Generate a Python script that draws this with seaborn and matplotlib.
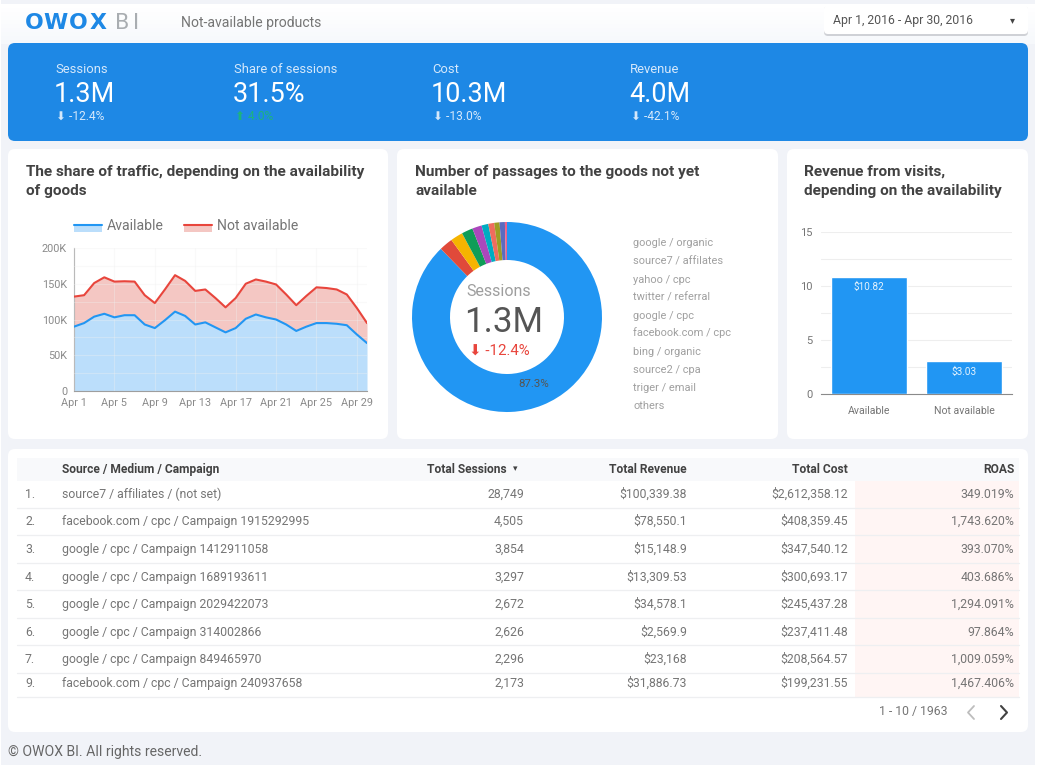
import matplotlib
matplotlib.use('Agg')
import matplotlib.pyplot as plt
from matplotlib.patches import FancyBboxPatch, Rectangle
import pandas as pd
import seaborn as sns

# データ
KPI_LABELS = ['Sessions', 'Share of sessions', 'Cost', 'Revenue']
KPI_VALUES = ['1.3M', '31.5%', '10.3M', '4.0M']
KPI_DELTAS = ['⬇ -12.4%', '⬆ 4.0%', '⬇ -13.0%', '⬇ -42.1%']

DAYS = pd.date_range('2016-04-01', '2016-04-30')
AVAILABLE = [90, 95, 104, 108, 103, 106, 106, 93, 88, 99, 111, 105, 93, 96, 89,
             82, 88, 101, 107, 103, 100, 93, 84, 90, 95, 95, 94, 92, 79, 67]
NOT_AVAILABLE = [132, 134, 151, 159, 153, 153.5, 153, 134, 123, 142, 162, 154, 140, 142, 130,
                 117, 130, 150, 156, 153, 149, 135, 120, 133, 145, 144, 142, 135, 116, 95]

SOURCES = ['google / organic', 'source7 / affilates', 'yahoo / cpc', 'twitter / referral', 'google / cpc',
           'facebook.com / cpc', 'bing / organic', 'source2 / cpa', 'triger / email', 'others']
SOURCE_SHARES = [87.3, 2.3, 2.1, 1.9, 1.6, 1.15, 1.0, 0.9, 0.9, 0.35]

BAR_NAMES = ['Available', 'Not available']
BAR_VALUES = [10.82, 3.03]
BAR_LABELS = ['$10.82', '$3.03']

ROW_IDS = ['1.', '2.', '3.', '4.', '5.', '6.', '7.', '9.']
ROW_NAMES = ['source7 / affiliates / (not set)', 'facebook.com / cpc / Campaign 1915292995',
             'google / cpc / Campaign 1412911058', 'google / cpc / Campaign 1689193611',
             'google / cpc / Campaign 2029422073', 'google / cpc / Campaign 314002866',
             'google / cpc / Campaign 849465970', 'facebook.com / cpc / Campaign 240937658']
ROW_SESSIONS = ['28,749', '4,505', '3,854', '3,297', '2,672', '2,626', '2,296', '2,173']
ROW_REVENUE = ['$100,339.38', '$78,550.1', '$15,148.9', '$13,309.53', '$34,578.1', '$2,569.9', '$23,168', '$31,886.73']
ROW_COST = ['$2,612,358.12', '$408,359.45', '$347,540.12', '$300,693.17', '$245,437.28',
            '$237,411.48', '$208,564.57', '$199,231.55']
ROW_ROAS = ['349.019%', '1,743.620%', '393.070%', '403.686%', '1,294.091%', '97.864%', '1,009.059%', '1,467.406%']

# 色
BLUE = '#2196f3'
BANNER = '#1e88e5'
RED = '#e8453c'
PAGE = '#f1f3f8'
PIE_COLORS = [BLUE, '#e04a3a', '#f5b400', '#0f9d58', '#ab47bc', '#00acc1', '#ef6c5e', '#9e9d24', '#5c6bc0', '#f0608a']
W, H = 1040, 768

sns.set_theme(style='white')
plt.rcParams['font.family'] = ['Roboto', 'DejaVu Sans']

fig = plt.figure(figsize=(W / 100, H / 100), dpi=100, facecolor='white')


def overlay(z):
    ax = fig.add_axes([0, 0, 1, 1], zorder=z)
    ax.set_xlim(0, W)
    ax.set_ylim(H, 0)
    ax.axis('off')
    return ax


def axes_px(left, top, right, bottom):
    ax = fig.add_axes([left / W, 1 - bottom / H, (right - left) / W, (bottom - top) / H], zorder=2)
    ax.patch.set_alpha(0)
    return ax


back = overlay(0)
front = overlay(5)


def txt(x, y, s, px=12, color='#757575', ha='left', weight='normal', **kw):
    # ベースライン揃えにして行ごとのズレを防ぐ
    front.text(x, y - 0.5 + 0.36 * px, s, fontsize=px / 1.389, color=color, ha=ha, va='baseline', fontweight=weight, **kw)


def card(x0, y0, x1, y1, color='white', r=7):
    back.add_patch(FancyBboxPatch((x0 + r, y0 + r), x1 - x0 - 2 * r, y1 - y0 - 2 * r,
                                  boxstyle=f'round,pad={r},rounding_size={r}', fc=color, ec='none'))


# 背景とカード
back.add_patch(Rectangle((1, 0), 1034, 765, fc=PAGE, ec='none'))
for y in range(4, 44, 4):
    shade = plt.cm.colors.to_hex([1 - (y - 4) / 39 * 0.04, 1 - (y - 4) / 39 * 0.03, 1 - (y - 4) / 39 * 0.015])
    back.add_patch(Rectangle((1, y), 1034, 4, fc=shade, ec='none'))
card(8, 43, 1028, 141, BANNER)
card(8, 149, 388, 439)
card(397, 149, 778, 439)
card(787, 149, 1028, 439)
card(8, 449, 1028, 732)

# ヘッダー
for x, letter in zip([25, 43, 69, 90], 'OWOX'):
    txt(x, 22, letter, px=22, color='#1e88e5', weight='bold', family=['DejaVu Sans'])
txt(115, 22, 'B', px=21, color='#a9adb1', family=['DejaVu Sans'])
txt(133, 22, 'I', px=21, color='#a9adb1', family=['DejaVu Sans'])
txt(181, 22, 'Not-available products', px=14)
card(824, 6, 1028, 36, '#cfd1d6', r=4)
card(824, 5, 1028, 34, 'white', r=4)
txt(833, 20, 'Apr 1, 2016 - Apr 30, 2016', px=12.3, color='#555555')
txt(1010, 20, '▾', px=10, color='#444444', family=['DejaVu Sans'])

# KPI
for x, label, value, delta in zip([55, 234, 432, 630], KPI_LABELS, KPI_VALUES, KPI_DELTAS):
    txt(x, 69, label, px=13, color='#d5e8fb')
    txt(x - 1, 93, value, px=27, color='white')
    txt(x + 1, 116, delta, px=12, color='#1db37e' if '⬆' in delta else '#d5e8fb')

# カードタイトル
TITLE = dict(px=15.35, color='#424242', weight='bold')
txt(26, 171, 'The share of traffic, depending on the availability', **TITLE)
txt(26, 190, 'of goods', **TITLE)
txt(415, 171, 'Number of passages to the goods not yet', **TITLE)
txt(415, 190, 'available', **TITLE)
txt(804, 171, 'Revenue from visits,', **TITLE)
txt(804, 190, 'depending on the availability', **TITLE)

# 折れ線グラフ
ax = axes_px(74, 248, 367, 391)
traffic = pd.DataFrame({'day': DAYS, 'available': [v * 1000 for v in AVAILABLE],
                        'not_available': [v * 1000 for v in NOT_AVAILABLE]})
ax.fill_between(traffic['day'], 0, traffic['available'], color='#bbdefb', lw=0, zorder=1)
ax.fill_between(traffic['day'], traffic['available'], traffic['not_available'], color='#f4c7c3', lw=0, zorder=1)
sns.lineplot(data=traffic, x='day', y='available', color=BLUE, lw=1.5, ax=ax, zorder=3)
sns.lineplot(data=traffic, x='day', y='not_available', color=RED, lw=1.5, ax=ax, zorder=3)
ax.set_xlim(DAYS[0], DAYS[-1])
ax.set_ylim(0, 200000)
tick_days = DAYS[::4]
ax.set_xticks(tick_days, [f'Apr {d.day}' for d in tick_days])
ax.set_yticks([0, 50000, 100000, 150000, 200000], ['0', '50K', '100K', '150K', '200K'])
ax.set_yticks([25000, 75000, 125000, 175000], minor=True)
ax.grid(True, which='both', color='#f0f0f0', lw=0.8, alpha=0.35, zorder=2)
ax.set_axisbelow(False)
ax.set(xlabel='', ylabel='')
ax.tick_params(axis='both', which='both', length=0, labelsize=7.8, labelcolor='#8a8a8a', pad=5)
for side in ['top', 'right']:
    ax.spines[side].set_visible(False)
for side in ['left', 'bottom']:
    ax.spines[side].set_color('#9e9e9e')
    ax.spines[side].set_linewidth(0.8)

# 折れ線の凡例
for x0, fill, line, name in [(74, '#bbdefb', BLUE, 'Available'), (184, '#f4c7c3', RED, 'Not available')]:
    back.add_patch(Rectangle((x0, 224), 28, 8, fc=fill, ec='none'))
    back.plot([x0, x0 + 28], [225, 225], color=line, lw=1.5)
    txt(x0 + 33, 225, name, px=14)

# ドーナツ
ax = axes_px(412, 222, 602, 412)
ax.pie(SOURCE_SHARES, colors=PIE_COLORS, startangle=90, counterclock=False, radius=1,
       wedgeprops={'width': 0.4, 'linewidth': 0})
ax.set_xlim(-1, 1)
ax.set_ylim(-1, 1)
txt(499, 291, 'Sessions', px=16, color='#9e9e9e', ha='center')
txt(504, 320, '1.3M', px=35, color='#555555', ha='center')
txt(499, 350, '⬇ -12.4%', px=15, color=RED, ha='center')
txt(518, 383, '87.3%', px=11.5, color='#555555', ha='left')
for y, source in zip([243, 261, 280, 297, 316, 333, 352, 370, 388, 406], SOURCES):
    txt(633, y, source, px=11, color='#a0a0a0')

# 棒グラフ
ax = axes_px(821, 232, 1012, 394)
revenue = pd.DataFrame({'name': BAR_NAMES, 'value': BAR_VALUES})
sns.barplot(data=revenue, x='name', y='value', color=BLUE, saturation=1, width=0.8, ax=ax, zorder=3)
ax.set_xlim(-0.5, 1.5)
ax.set_ylim(0, 15)
ax.set_yticks([0, 5, 10, 15])
ax.set_yticks([2.5, 7.5, 12.5], minor=True)
ax.grid(True, axis='y', which='both', color='#eeeeee', lw=0.8, zorder=0)
ax.set(xlabel='', ylabel='')
ax.tick_params(axis='both', which='both', length=0, labelcolor='#757575', pad=9)
ax.tick_params(axis='x', labelsize=7.6)
ax.tick_params(axis='y', labelsize=8, pad=6)
for side in ['top', 'right', 'left']:
    ax.spines[side].set_visible(False)
ax.spines['bottom'].set_color('#8a8a8a')
ax.spines['bottom'].set_linewidth(0.8)
ax.bar_label(ax.containers[0], labels=BAR_LABELS, label_type='edge', padding=-11, color='#e3f2fd', fontsize=7.2)

# テーブル
back.add_patch(Rectangle((17, 458), 1002, 23, fc='#f8f9fb', ec='none'))
back.add_patch(Rectangle((855, 481), 164, 216, fc='#fff5f4', ec='none'))
row_y = [494, 521, 549, 577, 604, 632, 659, 683]
line_y = [508, 535, 563, 590, 618, 645, 673, 697]
for y in line_y:
    back.plot([17, 1019], [y, y], color='#eeeff1', lw=0.9)
HEAD = dict(px=12, color='#424242', weight='bold')
txt(62, 469, 'Source / Medium / Campaign', **HEAD)
txt(507, 469, 'Total Sessions', ha='right', **HEAD)
txt(513, 468, '▾', px=9, color='#424242', family=['DejaVu Sans'])
txt(687, 469, 'Total Revenue', ha='right', **HEAD)
txt(848, 469, 'Total Cost', ha='right', **HEAD)
txt(1014, 469, 'ROAS', ha='right', **HEAD)
for i, y in enumerate(row_y):
    txt(25, y, ROW_IDS[i], px=12.3)
    txt(62, y, ROW_NAMES[i], px=12.3)
    txt(524, y, ROW_SESSIONS[i], px=12.3, ha='right')
    txt(687, y, ROW_REVENUE[i], px=12.3, ha='right')
    txt(848, y, ROW_COST[i], px=12.3, ha='right')
    txt(1014, y, ROW_ROAS[i], px=12.3, ha='right')

# ページ送り
txt(879, 711, '1 - 10 / 1963', px=12.3)
front.plot([974, 968, 974], [706, 712.5, 719], color='#bdbdbd', lw=1.3)
front.plot([1001, 1007, 1001], [706, 712.5, 719], color='#424242', lw=1.5)

# フッター
txt(8, 751, '© OWOX BI. All rights reserved.', px=14, color='#666666')

fig.savefig('out.png', dpi=100)
